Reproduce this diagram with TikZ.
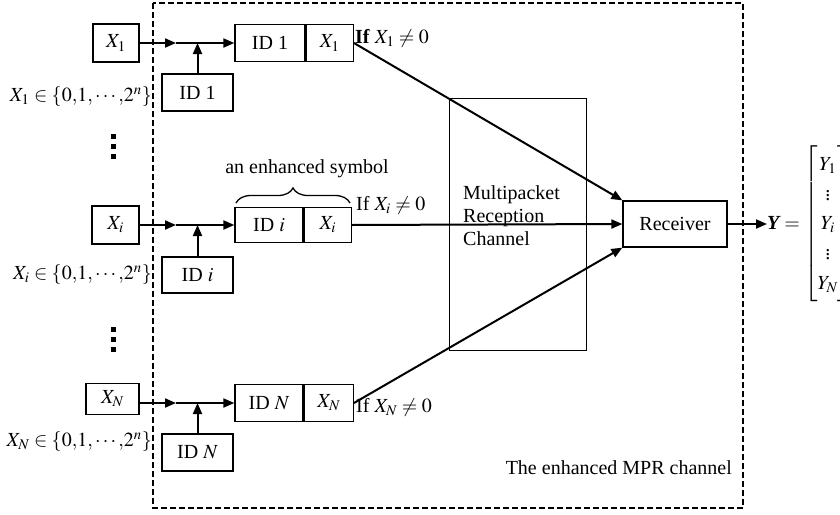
\documentclass[tikz,border=0pt]{standalone}
\usepackage{amsmath}
\usepackage{mathptmx}
\usepackage[no-math]{fontspec}
\setmainfont{Liberation Serif}
\usetikzlibrary{arrows.meta,decorations.pathreplacing}
\tikzset{
  box/.style={draw, line width=1.3pt, inner sep=0pt, minimum height=37pt},
  ln/.style={line width=2pt},
  arr/.style={ln, -{Triangle[length=11pt,width=9pt]}},
  lbl/.style={inner sep=0pt},
  dotsq/.style={fill=black}
}
\newcommand{\setlbl}[1]{$#1\in\{0{,}1{,}\cdots{,}2^n\}$}
\begin{document}
\begin{tikzpicture}[x=1pt,y=-1pt,font=\fontsize{20}{23}\selectfont]
\useasboundingbox (0,0) rectangle (840,514);
% enhanced MPR channel frame
\draw[line width=2.2pt, dash pattern=on 6pt off 3pt] (153,3) rectangle (743,508);
\node[lbl, anchor=east] (mprlbl) at (732,468) {The enhanced MPR channel};
% multipacket reception channel
\node[draw, line width=1pt, minimum width=137pt, minimum height=252pt, inner sep=0pt] (mpr) at (517.5,224) {};
\node[lbl, anchor=west, align=left] (mprtxt) at (463,216) {Multipacket\\Reception\\Channel};
% receiver
\node[box, minimum width=104pt, minimum height=46pt] (rx) at (675,224) {Receiver};
\node[lbl, anchor=west] (yout) at (767,224) {\textbf{\textit{Y}}\,$=\renewcommand{\arraystretch}{1.3}\begin{bmatrix} Y_1\\ \vdots\\ Y_i\\ \vdots\\ Y_N\end{bmatrix}$};
\draw[arr] (rx.east) -- (yout.west);

% ---------- row 1 ----------
\node[box, minimum width=46pt, minimum height=38pt] (x1) at (116,43) {$X_1$};
\node[box, minimum width=70pt] (c1id) at (270,43) {ID 1};
\node[box, minimum width=47pt, anchor=west] (c1x) at (c1id.east) {$X_1$};
\node[box, minimum width=71pt] (s1) at (197.5,92.5) {ID 1};
\coordinate (m1) at (176,43);
\draw[arr] (x1.east) -- (m1);
\draw[arr] (m1) -- (c1id.west);
\draw[arr] (s1.north) -- (s1.north |- c1id.west);
\node[lbl, anchor=east] (l1) at (152,97) {\setlbl{X_1}};
\node[lbl, anchor=west] (if1) at (355,38) {\textbf{If} $X_1\neq 0$};
\draw[arr] (c1x.east) -- (rx.north west);

% dots
\fill[dotsq] (110.5,133.5) rectangle +(5,5);
\fill[dotsq] (110.5,143.5) rectangle +(5,5);
\fill[dotsq] (110.5,153.5) rectangle +(5,5);

% ---------- row i ----------
\node[lbl] (enh) at (307,169) {an enhanced symbol};
\draw[decorate, decoration={brace, amplitude=15pt}, line width=1.3pt] (236,203) -- (350,203);
\node[box, minimum width=47pt, minimum height=38pt] (xi) at (115.5,225) {$X_i$};
\node[box, minimum width=68pt, minimum height=35pt] (ciid) at (269,225) {ID $i$};
\node[box, minimum width=47pt, minimum height=35pt, anchor=west] (cix) at (ciid.east) {$X_i$};
\node[box, minimum width=71pt, minimum height=36pt] (si) at (197.5,275) {ID $i$};
\coordinate (mi) at (176,225);
\draw[arr] (xi.east) -- (mi);
\draw[arr] (mi) -- (ciid.west);
\draw[arr] (si.north) -- (si.north |- ciid.west);
\node[lbl, anchor=east] (li) at (152,275) {\setlbl{X_i}};
\node[lbl, anchor=west] (ifi) at (356,205) {If $X_i\neq 0$};
\draw[arr] (cix.east) -- (rx.west);

% dots
\fill[dotsq] (110.5,326.5) rectangle +(5,5);
\fill[dotsq] (110.5,336.5) rectangle +(5,5);
\fill[dotsq] (110.5,346.5) rectangle +(5,5);

% ---------- row N ----------
\node[box, minimum width=53pt, minimum height=31pt] (xn) at (112.5,399) {$X_N$};
\node[box, minimum width=68pt] (cnid) at (269,403) {ID $N$};
\node[box, minimum width=49pt, anchor=west] (cnx) at (cnid.east) {$X_N$};
\node[box, minimum width=71pt] (sn) at (197.5,452.5) {ID $N$};
\coordinate (mn) at (176,403);
\draw[arr] (xn.east |- cnid.west) -- (mn);
\draw[arr] (mn) -- (cnid.west);
\draw[arr] (sn.north) -- (sn.north |- cnid.west);
\node[lbl, anchor=east] (ln) at (152,442) {\setlbl{X_N}};
\node[lbl, anchor=west] (ifn) at (356,407) {If $X_N\neq 0$};
\draw[arr] (cnx.east) -- (rx.south west);
\end{tikzpicture}
\end{document}
